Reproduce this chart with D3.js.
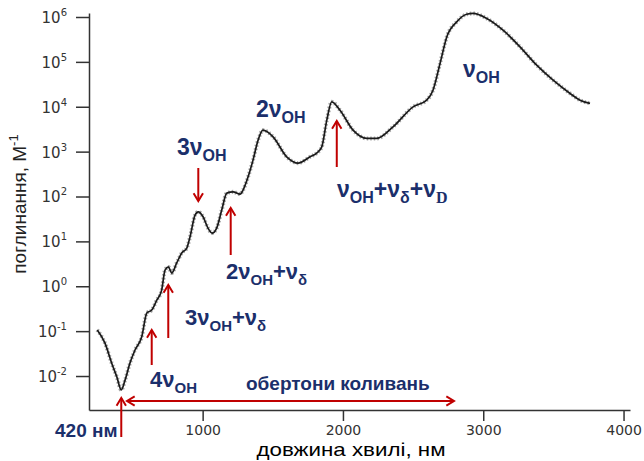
<!DOCTYPE html>
<meta charset="utf-8">
<style>
body { margin: 0; background: #fff; }
</style>
<body>
<div id="chart"></div>
<script src="https://cdnjs.cloudflare.com/ajax/libs/d3/7.8.5/d3.min.js"></script>
<script>

var width = 644;
var height = 461;

// spectrum: wavelength (nm) and absorption (M^-1)
var wavelength = [249, 304, 352, 388, 420, 447, 482, 518, 566, 602, 637, 673, 708, 732, 756, 780,
  815, 851, 887, 910, 946, 969, 1003, 1038, 1067, 1100, 1136, 1172, 1217, 1267, 1288, 1324,
  1359, 1395, 1430, 1502, 1599, 1680, 1766, 1813, 1849, 1885, 1920, 1979, 2072, 2170, 2241, 2357,
  2500, 2597, 2642, 2692, 2740, 2811, 2882, 2927, 3025, 3141, 3262, 3381, 3498, 3619, 3690, 3761];
var absorption = [0.106, 0.054, 0.0192, 0.0096, 0.0049, 0.0081, 0.0195, 0.038, 0.075, 0.253, 0.295, 0.49, 0.82, 2.3, 2.7, 1.97,
  3.3, 5.5, 7.1, 12.6, 38.5, 45.6, 35.3, 19.8, 15.3, 19.8, 49.8, 119, 127, 113, 139, 275,
  647, 1800, 3010, 2140, 766, 554, 766, 927, 1280, 5040, 12900, 8390, 3010, 1970, 1970, 3560,
  9950, 14000, 23400, 92000, 360000, 778000, 1150000, 1200000, 927000, 508000, 216000, 84300, 39100, 19800, 14000, 11900];

var xTicks = [1000, 2000, 3000, 4000];
var yTicks = [1e-2, 1e-1, 1e0, 1e1, 1e2, 1e3, 1e4, 1e5, 1e6];
var yExponents = ["-2", "-1", "0", "1", "2", "3", "4", "5", "6"];

var navy = "#1b2f6b";
var red = "#c00000";
var sans = "'Liberation Sans', Arial, sans-serif";
var wide = "'DejaVu Sans', Verdana, sans-serif";

var svg = d3.select("#chart").append("svg")
  .attr("width", width).attr("height", height);

// scales: one decade = 44.9 px, axis runs a bit past 10^-2 and 10^6
var decade = 44.9;
var xScale = d3.scaleLinear().domain([190, 4046]).range([89, 630]);
var yScale = d3.scaleLog()
  .domain([Math.pow(10, -2 - 34 / decade), Math.pow(10, 6 + 4 / decade)])
  .range([410, 13]);

// axes
var xAxis = svg.append("g")
  .attr("transform", "translate(0,410)")
  .call(d3.axisBottom(xScale).tickValues(xTicks).tickSize(11).tickSizeOuter(0)
    .tickFormat(d3.format("d")));

var yAxis = svg.append("g")
  .attr("transform", "translate(89,0)")
  .call(d3.axisLeft(yScale).tickValues(yTicks).tickSize(13).tickSizeOuter(0).tickPadding(9)
    .tickFormat(function() { return ""; }));

svg.selectAll(".domain, .tick line").attr("stroke", "#333").attr("stroke-width", 1.5);

xAxis.selectAll("text")
  .attr("y", 25).attr("dy", 0)
  .attr("fill", "#333")
  .style("font-family", wide).style("font-size", "14px");

yAxis.selectAll(".tick text").each(function(d, i) {
  var t = d3.select(this)
    .attr("fill", "#333")
    .style("font-family", wide).style("font-size", "15px")
    .attr("dy", "0.36em");
  t.append("tspan").text("10");
  t.append("tspan").style("font-size", "10px").attr("dy", -7).text(yExponents[i]);
});

// axis titles
svg.append("text")
  .attr("x", 351).attr("y", 456)
  .attr("text-anchor", "middle")
  .attr("textLength", 189).attr("lengthAdjust", "spacingAndGlyphs")
  .style("font-family", sans).style("font-size", "19px")
  .text("довжина хвилі, нм");

var yTitle = svg.append("text")
  .attr("transform", "translate(26,204) rotate(-90)")
  .attr("text-anchor", "middle")
  .style("font-family", sans).style("font-size", "19px")
  .attr("fill", "#222");
yTitle.append("tspan").text("поглинання, М");
yTitle.append("tspan").style("font-size", "13px").attr("dy", -8).text("-1");

// curve: grey dotted halo under the black trace
var points = wavelength.map(function(w, i) { return [w, absorption[i]]; });
var line = d3.line()
  .x(function(d) { return xScale(d[0]); })
  .y(function(d) { return yScale(d[1]); })
  .curve(d3.curveMonotoneX);

svg.append("path").datum(points)
  .attr("d", line)
  .attr("fill", "none")
  .attr("stroke", "#a8a8a8")
  .attr("stroke-width", 4)
  .attr("stroke-dasharray", "1.5,2");

svg.append("path").datum(points)
  .attr("d", line)
  .attr("fill", "none")
  .attr("stroke", "#1a1a1a")
  .attr("stroke-width", 1.7);

// red arrows
function arrow(x1, y1, x2, y2, head1, head2) {
  var g = svg.append("g").attr("stroke", red).attr("stroke-width", 2).attr("fill", "none");
  g.append("line").attr("x1", x1).attr("y1", y1).attr("x2", x2).attr("y2", y2);
  function head(px, py, ox, oy) {
    var a = Math.atan2(py - oy, px - ox), L = 9, w = 0.55;
    g.append("path").attr("d",
      "M" + (px - L * Math.cos(a - w)) + "," + (py - L * Math.sin(a - w)) +
      "L" + px + "," + py +
      "L" + (px - L * Math.cos(a + w)) + "," + (py - L * Math.sin(a + w)));
  }
  if (head2) head(x2, y2, x1, y1);
  if (head1) head(x1, y1, x2, y2);
}

arrow(xScale(420), 437, xScale(420), 398, false, true);
arrow(xScale(637), 365, xScale(637), 330, false, true);
arrow(xScale(755), 338, xScale(755), 285, false, true);
arrow(xScale(969), 168, xScale(969), 201, false, true);
arrow(xScale(1200), 255, xScale(1200), 208, false, true);
arrow(xScale(1956), 167, xScale(1956), 121, false, true);
arrow(127, 401, 454, 401, true, true);

// labels with subscripts
function rich(x, y, parts, size) {
  var t = svg.append("text").attr("x", x).attr("y", y)
    .attr("fill", navy).attr("font-weight", "bold")
    .style("font-family", sans).style("font-size", size + "px");
  var shift = 0;
  parts.forEach(function(p) {
    var s = t.append("tspan").text(p[0]);
    var target = p[1] === "sub" ? 6 : 0;
    if (p[1] === "sub") s.style("font-size", Math.round(size * 0.7) + "px");
    if (p[2]) s.style("font-family", p[2]);
    s.attr("dy", target - shift);
    shift = target;
  });
  return t;
}

rich(55, 437, [["420 нм", ""]], 19);
rich(150, 387, [["4ν", ""], ["OH", "sub"]], 22);
rich(246, 390, [["обертони коливань", ""]], 19);
rich(185, 325, [["3ν", ""], ["OH", "sub"], ["+ν", ""], ["δ", "sub"]], 22);
rich(226, 279, [["2ν", ""], ["OH", "sub"], ["+ν", ""], ["δ", "sub"]], 22);
rich(177, 155, [["3ν", ""], ["OH", "sub"]], 23);
rich(256, 117, [["2ν", ""], ["OH", "sub"]], 23);
rich(337, 197, [["ν", ""], ["OH", "sub"], ["+ν", ""], ["δ", "sub"], ["+ν", ""], ["D", "sub", "'Liberation Serif', serif"]], 23);
rich(463, 77, [["ν", ""], ["OH", "sub"]], 23);

</script>
</body>
